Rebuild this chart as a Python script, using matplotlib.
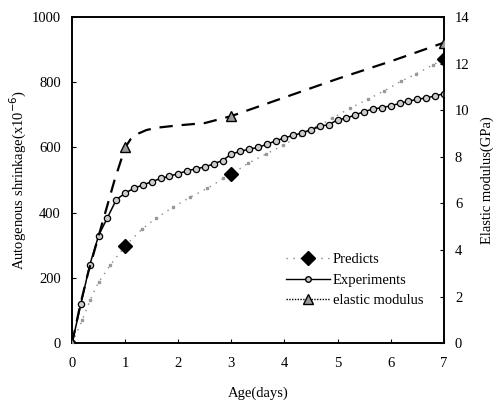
import matplotlib
matplotlib.use("Agg")
import matplotlib.pyplot as plt
from matplotlib.lines import Line2D
import numpy as np

plt.rcParams["font.family"] = ["Liberation Serif", "DejaVu Serif"]

# Experiments (autogenous shrinkage, x10^-6), every 4 hours
exp_days = np.arange(43) / 6.0
exp_vals = [0, 120, 240, 330, 385, 440, 460, 475, 485, 495, 505, 512, 520,
            528, 535, 540, 550, 560, 580, 588, 595, 600, 610, 620, 630, 637,
            645, 655, 665, 670, 685, 690, 700, 710, 718, 722, 728, 735, 742,
            748, 752, 758, 765]

# Predicted shrinkage
pred_days = [0, 0.19, 0.34, 0.5, 0.72, 1.0, 1.32, 1.58, 1.9, 2.23, 2.55, 2.85,
             3.0, 3.32, 3.65, 3.98, 4.3, 4.6, 4.9, 5.23, 5.57, 5.87, 6.19, 6.47,
             6.79, 7.0]
pred_vals = [0, 70, 132, 187, 239, 298, 350, 383, 417, 448, 475, 505, 518,
             552, 580, 607, 638, 662, 690, 720, 748, 773, 803, 825, 853, 870]
pred_mark_days = [1, 3, 7]
pred_mark_vals = [298, 518, 870]

# Elastic modulus (GPa)
em_days = [0, 0.15, 0.3, 0.5, 0.65, 0.8, 1.0, 1.1, 1.25, 1.4, 1.6, 2.0, 2.5,
           3.0, 4.0, 5.0, 6.0, 7.0]
em_vals = [0, 1.6, 3.0, 4.6, 5.8, 7.0, 8.4, 8.75, 9.0, 9.15, 9.25, 9.35, 9.45,
           9.75, 10.55, 11.35, 12.1, 12.9]
em_mark_days = [0, 1, 3, 7]
em_mark_vals = [0, 8.4, 9.75, 12.9]

fig = plt.figure(figsize=(4.97, 4.07), dpi=100)
ax = fig.add_axes([0.145, 0.157, 0.748, 0.801])
ax2 = ax.twinx()

ax.plot(pred_days, pred_vals, color="#888888", lw=1.0, ls=(0, (1, 4)),
        marker="s", ms=1.5, mec="#999999", mfc="#999999", zorder=2)
ax.plot(pred_mark_days, pred_mark_vals, ls="none", marker="D", ms=7,
        color="black", zorder=4)
ax.plot(exp_days, exp_vals, color="black", lw=1.1, marker="o", ms=4.5,
        mfc="#cccccc", mec="black", mew=0.9, zorder=3)
ax2.plot(em_days, em_vals, color="black", lw=1.6, ls=(0, (6, 4)), zorder=2)
ax2.plot(em_mark_days, em_mark_vals, ls="none", marker="^", ms=7,
         mfc="#999999", mec="black", mew=1.0, zorder=4)

ax.set_xlim(0, 7)
ax.set_ylim(0, 1000)
ax2.set_ylim(0, 14)
ax.set_xticks(range(8))
ax.set_yticks(range(0, 1001, 200))
ax2.set_yticks(range(0, 15, 2))

for a in (ax, ax2):
    a.tick_params(direction="in", length=3, labelsize=10.5, width=0.8)
    for s in a.spines.values():
        s.set_linewidth(1.2)
ax.tick_params(axis="x", pad=10)
ax.tick_params(axis="y", pad=8)
ax2.tick_params(axis="y", pad=8)

ax.set_xlabel("Age(days)", fontsize=10.5, labelpad=12)
ax.set_ylabel("Autogenous shrinkage(x10$^{-6}$)", fontsize=10.5, labelpad=2)
ax2.set_ylabel("Elastic modulus(GPa)", fontsize=10.5, labelpad=8)

handles = [
    Line2D([0], [0], color="#888888", lw=1.0, ls=(0, (1, 4)), marker="D",
           ms=7, mfc="black", mec="black", label="Predicts"),
    Line2D([0], [0], color="black", lw=1.0, marker="o", ms=4, mfc="#cccccc",
           mec="black", label="Experiments"),
    Line2D([0], [0], color="black", lw=1.0, ls=(0, (1, 1)), marker="^",
           ms=7, mfc="#999999", mec="black", label="elastic modulus"),
]
ax.legend(handles=handles, loc="lower left", bbox_to_anchor=(0.54, 0.07),
          frameon=False, fontsize=10.5, handlelength=3.0, handletextpad=0.2,
          labelspacing=0.5)

fig.savefig("out.png", dpi=100)
